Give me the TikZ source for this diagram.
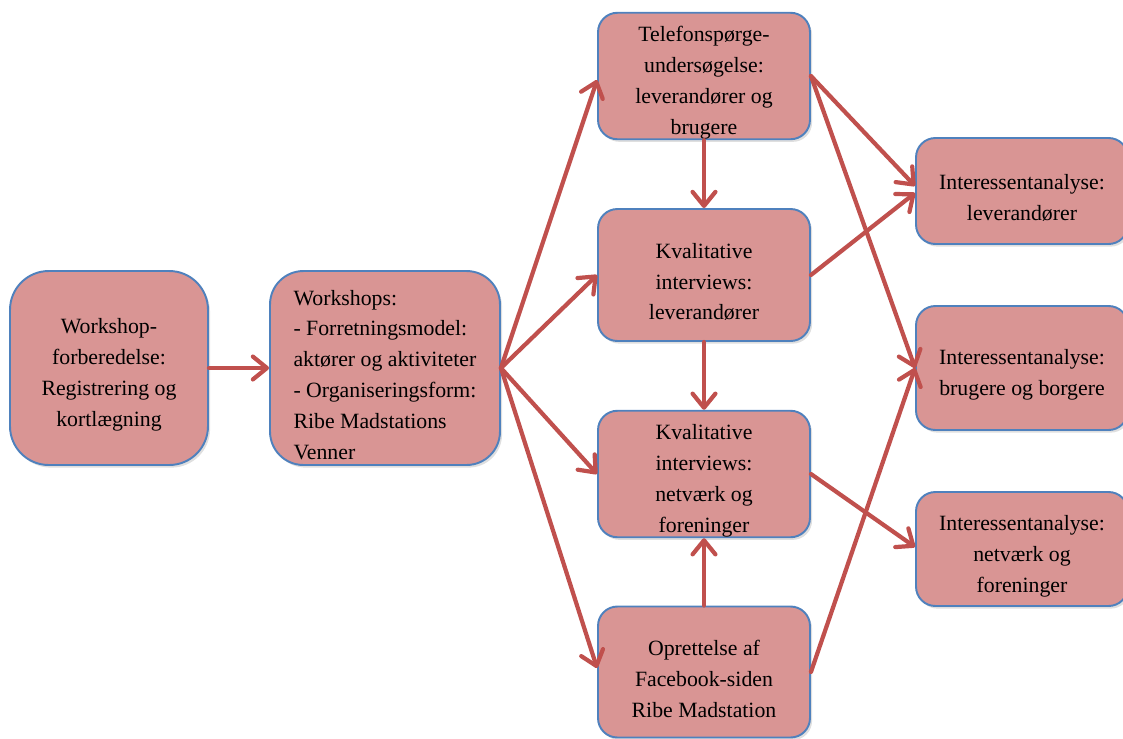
\documentclass[tikz,border=0pt]{standalone}
\usepackage{fontspec}
\setmainfont{Liberation Serif}
\usetikzlibrary{calc}
\usetikzlibrary{arrows.meta}
\usetikzlibrary{shadows}

\definecolor{boxfill}{HTML}{D99594}
\definecolor{boxline}{HTML}{4F81BD}
\definecolor{arrowred}{HTML}{C0504D}

\newcommand{\tallstrut}{\rule{0pt}{16.5pt}}

\begin{document}
\begin{tikzpicture}[
  x=0.02cm, y=-0.02cm,
  line cap=round,
  line join=round,
  >={Straight Barb[length=8pt,width=13pt,round]},
  box/.style={draw=boxline, line width=1.1pt, fill=boxfill,
    rounded corners=11pt, inner sep=0pt, align=center,
    minimum width=4.24cm,
    drop shadow={shadow xshift=1.2pt, shadow yshift=-1.5pt, opacity=0.25}},
  flow/.style={->, draw=arrowred, line width=2.4pt},
  every node/.style={font=\fontsize{12.4}{17.6}\selectfont}
]

\useasboundingbox (0,0) rectangle (1123,738);

% left column
\node [box, rounded corners=22pt, minimum width=3.96cm, minimum height=3.88cm]
  (prep) at (109,368) {\tallstrut Workshop-\\forberedelse:\\Registrering og\\kortlægning};
\node [box, rounded corners=19pt, minimum width=4.6cm, minimum height=3.88cm, align=left]
  (workshops) at (385,368) {\tallstrut Workshops:\\- Forretningsmodel:\\aktører og aktiviteter\\- Organiseringsform:\\Ribe Madstations\\Venner};

% middle column
\node [box, minimum height=2.48cm] (phone) at (704,76)
  {\tallstrut Telefonspørge-\\undersøgelse:\\leverandører og\\brugere};
\node [box, minimum height=2.64cm] (intlev) at (704,275)
  {\tallstrut Kvalitative\\interviews:\\leverandører};
\node [box, minimum height=2.52cm] (intnet) at (704,474)
  {\tallstrut Kvalitative\\interviews:\\netværk og\\foreninger};
\node [box, minimum height=2.62cm] (facebook) at (704,672)
  {\tallstrut Oprettelse af\\Facebook-siden\\Ribe Madstation};

% right column
\begin{scope}[every node/.append style={minimum width=4.24cm}]
  \node [box, minimum height=2.12cm] (anlev) at (1022,191)
    {\tallstrut Interessentanalyse:\\leverandører};
  \node [box, minimum height=2.48cm] (anbrug) at (1022,368)
    {\tallstrut Interessentanalyse:\\brugere og borgere};
  \node [box, minimum height=2.28cm] (annet) at (1022,549)
    {\tallstrut Interessentanalyse:\\netværk og\\foreninger};
\end{scope}

% connectors
\draw [flow] (prep.east) -- (workshops.west);
\draw [flow] (workshops.east) -- ($(phone.west)+(0,4)$);
\draw [flow] (workshops.east) -- (intlev.west);
\draw [flow] (workshops.east) -- (intnet.west);
\draw [flow] (workshops.east) -- ($(facebook.west)+(0,-4)$);

\draw [flow] (phone.south) -- (intlev.north);
\draw [flow] (intlev.south) -- (intnet.north);
\draw [flow] (facebook.north) -- (intnet.south);

\draw [flow] (phone.east) -- ($(anlev.west)+(0,-5)$);
\draw [flow] (phone.east) -- (anbrug.west);
\draw [flow] (intlev.east) -- ($(anlev.west)+(0,2)$);
\draw [flow] (intnet.east) -- ($(annet.west)+(0,-2)$);
\draw [flow] (facebook.east) -- (anbrug.west);

\end{tikzpicture}
\end{document}
